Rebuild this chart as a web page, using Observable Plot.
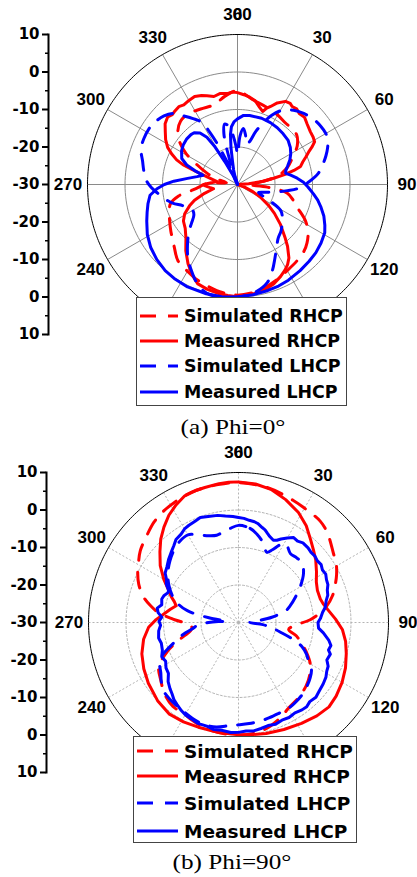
<!DOCTYPE html>
<html>
<head>
<meta charset="utf-8">
<script src="https://cdn.jsdelivr.net/npm/d3@7"></script>
<script src="https://cdn.jsdelivr.net/npm/@observablehq/plot@0.6"></script>
<style>
  body { margin: 0; background: #fff; }
  #wrap { position: relative; width: 417px; height: 877px; overflow: hidden; background: #fff; }
  .panel { position: absolute; left: 0; }
  .legend { position: absolute; background: #fff; border: 1px solid #444; box-sizing: border-box; font-family: "DejaVu Sans"; font-weight: bold; color: #000; }
  .row { position: absolute; left: 0; height: 26px; display: flex; align-items: center; white-space: nowrap; }
  .row svg { position: absolute; top: 0; }
  .row span { position: absolute; top: 50%; transform: translateY(-50%); }
  .caption { position: absolute; font-family: "Liberation Serif", "Times New Roman", serif; font-size: 21px; white-space: nowrap; transform: translate(-50%, -50%) scaleX(1.2); color: #000; }
</style>
</head>
<body>
<div id="wrap"></div>
<script>
// ---------- data: [angle in degrees, gain in dB] ----------
const phi0SimRHCP = [[0,-5],[10,-7],[21,-8],[30,-8.6],[38,-9.2],[45,-9.2],[50,-9.4],[57,-11],[64,-13.7],[71,-15.9],[78,-19],[84,-24],[90,-27],[95,-22],[100,-16.5],[106,-14.5],[111,-12.9],[118,-9.5],[124,-7.3],[130,-5.8],[135,-4.9],[142,-4.2],[150,-3.5],[158,-2.5],[165,-1.6],[172,-0.9],[180,-0.5],[188,-0.9],[195,-1.6],[203,-2.4],[210,-3.3],[218,-4.2],[225,-6.2],[230,-7.4],[235,-8.3],[242,-9.5],[248,-10.4],[254,-11.4],[259,-14],[263,-18],[267,-20],[270,-21],[274,-24],[279,-27],[285,-24],[291,-21],[296,-18],[301,-14],[306,-11],[312,-8.6],[318,-7.3],[325,-7],[334,-7.6],[344,-7.8],[352,-6.2]];
const phi0MeasRHCP = [[0,-5.5],[4,-6.0],[8,-6.5],[12,-7.2],[16,-8.6],[19,-9.4],[21,-8.2],[23,-7.4],[26,-5.8],[30,-4.4],[33,-4.2],[35,-4.6],[38,-4.4],[41,-4.9],[45,-4.7],[49,-5.4],[54,-6.0],[58,-6.2],[61,-6.5],[63,-7.6],[65,-8.9],[68,-10.3],[71,-11.6],[74,-12.5],[76,-14.5],[78,-17],[80,-20],[83,-23],[86,-27],[90,-30],[100,-31],[110,-28],[115,-25.5],[119,-23],[124,-20],[128,-17.5],[133,-14.3],[138,-11.1],[141,-8.8],[145,-6.1],[148,-4.8],[151,-3.9],[155,-2.9],[160,-1.8],[165,-1.1],[171,-0.6],[176,-0.3],[180,-0.1],[185,-0.3],[190,-0.5],[196,-0.9],[202,-1.5],[207,-3.2],[212,-5.1],[218,-7.6],[224,-10.2],[230,-11.8],[236,-12.6],[241,-13.9],[246,-16],[250,-17.8],[255,-20.9],[260,-23.5],[264,-22.5],[268,-21.2],[271,-21.5],[274,-23],[278,-24.5],[282,-23],[286,-20],[288,-17.5],[290,-14.5],[292,-12.5],[295,-10.6],[298,-8.9],[302,-7.4],[306,-6.2],[310,-4.8],[314,-4.1],[317,-4.5],[319,-4.3],[323,-4.0],[326,-4.4],[330,-4.1],[334,-3.9],[338,-4.4],[341,-5.0],[345,-5.7],[349,-5.3],[354,-5.6],[357,-5.3]];
const phi0SimLHCP = [[0,-22],[3,-17],[6,-15],[9,-16.5],[13,-19],[16,-18],[19,-15],[23,-12],[26,-9.6],[31,-6.9],[37,-5.2],[43,-4.1],[49,-3.3],[55,-2.9],[60,-2.8],[64,-3.2],[68,-4.1],[72,-5.2],[76,-6.4],[82,-8.2],[88,-11],[94,-14],[97,-16.6],[101,-19.5],[106,-22.5],[111,-24],[116,-21],[121,-16.6],[126,-15.2],[131,-14.2],[137,-13],[143,-12],[148,-10.3],[153,-8],[158,-5.2],[163,-2.7],[170,-1],[178,-0.1],[186,0.3],[194,0.3],[199,-0.5],[204,-2.2],[209,-4.3],[213,-5.9],[217,-7.8],[222,-10.2],[226,-12],[230,-14],[235,-15.8],[240,-16.2],[245,-15.3],[249,-14.3],[254,-12],[259,-10.2],[264,-8.5],[268,-7],[272,-5.8],[278,-4.8],[284,-3.9],[290,-2.6],[296,-2.2],[302,-2.1],[307,-2.4],[313,-3.2],[318,-4.5],[322,-6.8],[326,-8.8],[330,-10.8],[332,-14],[334,-19],[336,-25],[339,-30],[342,-24],[345,-16],[348,-13.5],[352,-14.5],[355,-17],[358,-20]];
const phi0MeasLHCP = [[0,-12.5],[5,-11.5],[10,-11.3],[20,-11.2],[28,-11.3],[35,-11.5],[42,-11.8],[49,-12.1],[55,-12.8],[60,-13.6],[65,-14.6],[70,-15.8],[74,-16.6],[77,-16.8],[80,-15.6],[84,-14],[88,-12.4],[92,-11.2],[97,-9.6],[101,-8.2],[105,-7],[110,-5.5],[115,-4.3],[119,-3.4],[125,-2.8],[131,-2.3],[137,-2],[144,-1.6],[152,-1.1],[158,-0.8],[164,-0.6],[172,-0.3],[180,0],[188,0.2],[196,0.3],[206,0.4],[214,0.2],[220,0],[227,-0.6],[234,-1.4],[241,-2.5],[248,-3.9],[253,-4.8],[258,-5.6],[263,-6.5],[267,-8.5],[270,-10.5],[273,-13],[277,-16.6],[281,-19],[285,-20.5],[288,-18],[291,-15.5],[295,-13.6],[301,-12.6],[306,-12.1],[312,-11.8],[317,-11.8],[320,-12],[324,-13],[327,-15],[329,-18],[331,-23],[334,-27],[338,-30],[342,-28],[345,-26],[348,-23.5],[350,-20],[352,-16.5],[354,-14.5],[357,-13.2]];

const phi90SimRHCP = [[0,7.3],[12,6.8],[24,5.7],[30,5.2],[39,4.7],[45,3.6],[54,1.3],[59,0.4],[64,-0.9],[68,-2.1],[74,-3.9],[80,-6.3],[84,-8.5],[88,-11],[93,-15],[98,-16.5],[103,-14.2],[108,-12.4],[114,-10.1],[120,-7.9],[127,-6.3],[133,-5.3],[141,-4.4],[150,-3.5],[156,-2.3],[163,-1.1],[170,-0.3],[178,0],[185,0],[193,-0.3],[200,-0.7],[206,-1.2],[211,-1.7],[218,-1.6],[226,-2.6],[233,-4.1],[241,-5.7],[248,-9.6],[252,-12.4],[256,-15],[260,-17],[264,-17.5],[269,-15.9],[273,-12.5],[277,-8.5],[281,-6],[285,-3.8],[291,-1.5],[296,-0.1],[301,1.1],[306,2.4],[314,3.8],[320,5],[326,5.8],[333,6.4],[340,6.9],[347,7.1],[354,7.2]];
const phi90MeasRHCP = [[0,7.5],[7,7.2],[14,6.5],[21,5.1],[28.6,3.4],[35,1.5],[41,-0.7],[46,-2.2],[51,-3.5],[57,-5.2],[62.5,-6.6],[68,-7.3],[74,-7.3],[78,-6.8],[82,-5.9],[88,-4.1],[94,-2.2],[100,-1],[106,-0.1],[113,1],[120,1.9],[127,2.6],[133,3],[140,2.5],[148,1.7],[157,1],[166,0.5],[174,0.1],[181,-0.1],[190,-0.2],[201,-0.1],[209,0.3],[217,0.6],[226,0],[236,-1],[244,-1.9],[252,-2.9],[260,-4.3],[267,-6],[272,-8],[276,-9.8],[281,-11.5],[285,-12.8],[288,-12],[291,-10.8],[295,-9.4],[300,-7],[306,-4.2],[312,-1.8],[317,0.4],[322,2.3],[327,4.1],[332,5.5],[337,6.7],[342,7],[346,7.1],[352,7.4],[356,7.5]];
const phi90SimLHCP = [[0,-4.1],[7,-4.7],[12,-6],[17,-7.7],[22,-9.8],[25,-8.6],[28,-6.6],[31,-5.5],[37,-7],[42,-6.8],[47,-6.8],[53,-8.3],[60,-11],[66,-13.4],[72,-15.5],[76,-17],[81,-21],[85,-25],[90,-27],[95,-23.5],[99,-21],[103,-18.5],[107,-15],[111,-11.8],[115,-10],[118.5,-8.8],[123,-6.8],[128,-5.8],[134,-4.9],[139,-4.3],[145,-3.8],[150,-3.5],[156,-3.5],[162,-3.3],[167,-3.1],[174,-2.9],[180,-2.7],[185,-2.4],[192,-1.5],[198,-1.3],[204,-1.5],[210,-2],[216,-2.3],[223,-2.6],[228,-3],[233,-4.2],[237,-5.3],[243,-6.4],[247,-8],[250,-10.2],[254,-12.8],[258,-15],[262,-17.5],[266,-19],[270,-22],[273,-25],[276,-27],[279,-22],[283,-16],[287,-13.2],[292,-11],[298,-9],[305,-7],[312,-5.4],[318,-4.2],[324,-3.3],[330,-3],[336,-4.5],[341,-5.5],[346,-6],[350,-5.6],[355,-4.8]];
const phi90MeasLHCP = [[0,-2],[3,-2.2],[6,-2.6],[9,-2.8],[11,-3.1],[14,-3.9],[16,-4.3],[18,-5],[20,-5.6],[23,-6.2],[25,-5.8],[27,-5],[30,-4],[33,-3],[36,-3.2],[39,-2.7],[43,-2.8],[46,-3.1],[49,-3.0],[52,-3.3],[55,-3.1],[58,-3.6],[61,-3.4],[64,-3.9],[67,-4.1],[70,-4.8],[73,-5.1],[76,-5.9],[80,-6.5],[83,-7.4],[87,-8.1],[90,-8.8],[94,-8.6],[97,-7.2],[101,-5.5],[104,-4.6],[107,-4.9],[109,-4.1],[113,-4.4],[116,-3.4],[119,-3.1],[122,-2.5],[126,-2.1],[130,-1.8],[134,-1.3],[138,-1.6],[141,-1.1],[144,-1.2],[148,-1.6],[152,-1.3],[156,-1.5],[160,-1.1],[164,-1.4],[168,-1.1],[172,-0.8],[176,-1],[180,-0.7],[184,-0.6],[189,-0.9],[193,-0.7],[197,-1.1],[202,-1],[206,-1.4],[210,-1.6],[213,-2],[217,-2.7],[220,-3.2],[223,-4],[226,-4.6],[230,-5.5],[234,-6.9],[238,-7.2],[242,-8],[246,-7.6],[250,-8.4],[255,-8.7],[259,-8.3],[264,-8.6],[268,-9.2],[271,-8.8],[274,-9.5],[277,-8.4],[280,-8],[283,-9],[287,-8.6],[290,-8.9],[293,-9.6],[295,-9.4],[298,-8.2],[301,-7.6],[304,-6.4],[308,-5.8],[312,-4.9],[316,-4.1],[320,-3.2],[323,-2.3],[327,-1.9],[330,-1.2],[333,-0.9],[337,-0.6],[340,-0.2],[344,-0.6],[349,-0.9],[353,-1.4],[357,-1.7]];

// tick / label arrays
const radialTicks = [-40, -30, -20, -10, 0, 10, 20, 30, 40];     // signed distance from centre (dB + 30)
const radialMinor = [-35, -25, -15, -5, 5, 15, 25, 35];
const angleTickPos = [0, 0, 30, 60, 90, 120, 240, 270, 300, 330];
const angleTickText = ["360", "0", "30", "60", "90", "120", "240", "270", "300", "330"];
const ringLevels = [10, 20, 30];      // -20, -10, 0 dB
const outerLevel = 40;                 // 10 dB
const spokeAngles = [0, 30, 60, 90, 120, 150, 180, 210, 240, 270, 300, 330];
const legendLabels = ["Simulated RHCP", "Measured RHCP", "Simulated LHCP", "Measured LHCP"];
const legendColors = ["#ff0000", "#ff0000", "#0000ff", "#0000ff"];
const legendDashed = [true, false, true, false];
const captions = ["(a) Phi=0°", "(b) Phi=90°"];

// ---------- helpers ----------
const RAD = Math.PI / 180;
const rOf = db => Math.max(0, db + 30);
const px = d => rOf(d[1]) * Math.sin(d[0] * RAD);
const py = d => rOf(d[1]) * Math.cos(d[0] * RAD);
const DASH = "16,12";

function polar(cfg) {
  const ringPts = [];
  for (const r of ringLevels) for (const a of d3.range(0, 361, 2)) ringPts.push({r, a});
  const outerPts = d3.range(0, 361, 1).map(a => ({r: outerLevel, a}));
  const gx = d => d.r * Math.sin(d.a * RAD);
  const gy = d => d.r * Math.cos(d.a * RAD);
  const gridStyle = cfg.dotted
    ? {stroke: "#b4b4b4", strokeWidth: 1, strokeDasharray: "2,2"}
    : {stroke: "#8a8a8a", strokeWidth: 1};
  const labels = angleTickPos.map((a, i) => ({a, t: angleTickText[i]}));
  const s = cfg.series;
  return Plot.plot({
    width: 417,
    height: cfg.height,
    marginLeft: cfg.marginLeft,
    insetLeft: cfg.insetLeft,
    marginRight: cfg.marginRight,
    marginTop: cfg.marginTop,
    marginBottom: cfg.height - cfg.marginTop - 300,
    style: {background: "transparent", overflow: "visible"},
    x: {domain: [-40, 40], axis: null},
    y: {domain: [-40, 40]},
    marks: [
      Plot.line(ringPts, {x: gx, y: gy, z: "r", ...gridStyle}),
      Plot.link(spokeAngles, {x1: () => 0, y1: () => 0, x2: a => outerLevel * Math.sin(a * RAD), y2: a => outerLevel * Math.cos(a * RAD), ...gridStyle}),
      Plot.line(outerPts, {x: gx, y: gy, stroke: "#000", strokeWidth: 1}),
      Plot.text(labels, {x: d => 45.2 * Math.sin(d.a * RAD), y: d => 45.2 * Math.cos(d.a * RAD), text: "t", fontFamily: "Liberation Sans, Arial", fontWeight: "bold", fontSize: 17, fill: "#000"}),
      Plot.line(s[0], {x: px, y: py, stroke: "#ff0000", strokeWidth: 3, strokeDasharray: DASH, curve: "catmull-rom-closed"}),
      Plot.line(s[1], {x: px, y: py, stroke: "#ff0000", strokeWidth: 3, curve: "linear-closed"}),
      Plot.line(s[2], {x: px, y: py, stroke: "#0000ff", strokeWidth: 3, strokeDasharray: DASH, curve: "catmull-rom-closed"}),
      Plot.line(s[3], {x: px, y: py, stroke: "#0000ff", strokeWidth: 3, curve: "linear-closed"}),
      Plot.frame({anchor: "left", stroke: "#000", strokeWidth: 2}),
      Plot.axisY(radialMinor, {anchor: "left", tickSize: 3, tickFormat: () => "", strokeWidth: 1.5, stroke: "#000"}),
      Plot.axisY(radialTicks, {anchor: "left", tickSize: 6, tickPadding: 3, strokeWidth: 2, stroke: "#000", fill: "#000",
        tickFormat: d => String(Math.abs(d) - 30), fontFamily: "DejaVu Sans", fontWeight: "bold", fontSize: 15})
    ]
  });
}

function legend(cfg) {
  const box = document.createElement("div");
  box.className = "legend";
  Object.assign(box.style, {left: cfg.left + "px", top: cfg.top + "px", width: cfg.width + "px", height: cfg.height + "px", fontSize: cfg.fontSize + "px"});
  legendLabels.forEach((lab, i) => {
    const row = document.createElement("div");
    row.className = "row";
    row.style.top = (cfg.rows[i] - 13) + "px";
    row.style.width = cfg.width + "px";
    const svg = d3.create("svg").attr("width", cfg.lineX2 + 2).attr("height", 26);
    svg.append("line").attr("x1", cfg.lineX1).attr("x2", cfg.lineX2).attr("y1", 13).attr("y2", 13)
      .attr("stroke", legendColors[i]).attr("stroke-width", 3)
      .attr("stroke-dasharray", legendDashed[i] ? DASH : null);
    row.appendChild(svg.node());
    const sp = document.createElement("span");
    sp.textContent = lab;
    sp.style.left = cfg.textX + "px";
    row.appendChild(sp);
    box.appendChild(row);
  });
  return box;
}

function caption(text, x, y) {
  const c = document.createElement("div");
  c.className = "caption";
  c.textContent = text;
  c.style.left = x + "px";
  c.style.top = y + "px";
  return c;
}

const wrap = document.getElementById("wrap");

const p1 = polar({series: [phi0SimRHCP, phi0MeasRHCP, phi0SimLHCP, phi0MeasLHCP], height: 345, marginTop: 34, marginLeft: 48, insetLeft: 39, marginRight: 30, dotted: false});
const d1 = document.createElement("div"); d1.className = "panel"; d1.style.top = "0px"; d1.appendChild(p1); wrap.appendChild(d1);
wrap.appendChild(legend({left: 136, top: 297, width: 211, height: 109, rows: [18, 43, 68, 94], lineX1: 3, lineX2: 41, textX: 47, fontSize: 17.4}));
wrap.appendChild(caption(captions[0], 233, 427));

const p2 = polar({series: [phi90SimRHCP, phi90MeasRHCP, phi90SimLHCP, phi90MeasLHCP], height: 345, marginTop: 32, marginLeft: 46, insetLeft: 42, marginRight: 29, dotted: true});
const d2 = document.createElement("div"); d2.className = "panel"; d2.style.top = "440px"; d2.appendChild(p2); wrap.appendChild(d2);
wrap.appendChild(legend({left: 133, top: 736, width: 224, height: 107, rows: [14, 39, 66, 94], lineX1: 3, lineX2: 44, textX: 50, fontSize: 18.5}));
wrap.appendChild(caption(captions[1], 232, 862));
</script>
</body>
</html>
